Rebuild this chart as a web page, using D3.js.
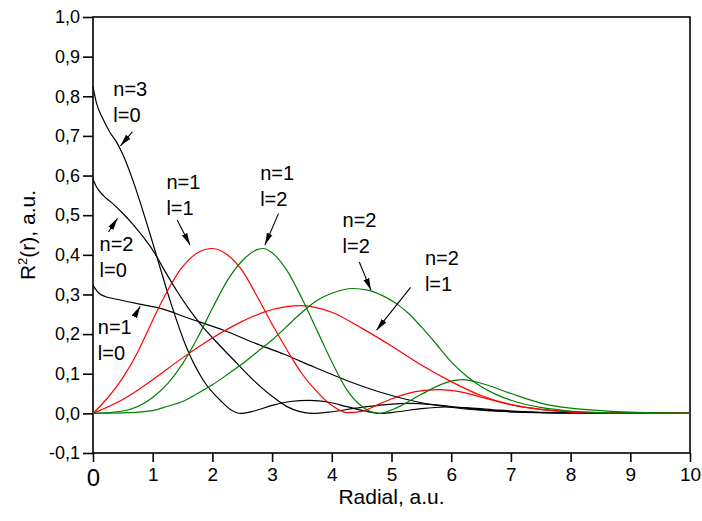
<!DOCTYPE html>
<html>
<head>
<meta charset="utf-8">
<script src="https://cdn.jsdelivr.net/npm/d3@7"></script>
<style>
  body { margin: 0; background: #fff; }
  svg { display: block; font-family: Arial, "Liberation Sans", sans-serif; }
</style>
</head>
<body>
<svg id="chart" width="702" height="521"></svg>
<script>
// radial values (a.u.) and R^2, one array per state
var n1l0 = [[0,0.323],[0.1,0.303],[0.2,0.295],[0.4,0.288],[0.8,0.275],[1.1,0.266],[1.6,0.240],[2.2,0.209],
            [2.7,0.178],[3.2,0.149],[3.7,0.117],[4.25,0.083],[4.8,0.054],[5.4,0.030],[5.95,0.016],[6.5,0.008],
            [7,0.004],[8,0.001],[10,0]];
var n2l0 = [[0,0.59],[0.06,0.571],[0.17,0.55],[0.34,0.528],[0.51,0.503],[0.68,0.475],[0.84,0.445],[1.0,0.412],
            [1.2,0.36],[1.4,0.31],[1.6,0.265],[1.8,0.225],[2.1,0.175],[2.4,0.128],[2.7,0.082],[3.0,0.043],
            [3.25,0.017],[3.45,0.005],[3.68,0],[4.0,0.004],[4.4,0.013],[4.9,0.022],[5.3,0.025],[5.7,0.022],
            [6.2,0.014],[6.7,0.007],[7.2,0.003],[8,0.001],[10,0]];
var n3l0 = [[0,0.824],[0.06,0.782],[0.17,0.742],[0.28,0.71],[0.4,0.683],[0.5,0.653],[0.6,0.616],[0.7,0.574],
            [0.8,0.528],[0.93,0.465],[1.07,0.395],[1.29,0.285],[1.57,0.165],[1.85,0.083],[2.13,0.033],[2.3,0.01],
            [2.48,0],[2.7,0.006],[3.0,0.02],[3.3,0.03],[3.63,0.033],[3.95,0.028],[4.25,0.017],[4.55,0.006],
            [4.82,0],[5.1,0.004],[5.5,0.012],[5.9,0.016],[6.3,0.014],[6.8,0.008],[7.3,0.004],[8,0.001],[10,0]];
var n1l1 = [[0,0],[0.25,0.04],[0.5,0.09],[0.75,0.155],[1.0,0.235],[1.25,0.31],[1.5,0.37],[1.75,0.405],
            [2.0,0.416],[2.25,0.4],[2.5,0.36],[2.75,0.295],[3.0,0.225],[3.25,0.16],[3.5,0.1],[3.75,0.055],
            [4.0,0.02],[4.25,0.002],[4.5,0.005],[4.8,0.024],[5.1,0.042],[5.4,0.055],[5.8,0.06],[6.2,0.053],
            [6.5,0.041],[7.0,0.022],[7.5,0.01],[8,0.004],[9,0.001],[10,0]];
var n2l1 = [[0,0],[0.5,0.035],[1.0,0.085],[1.5,0.14],[2.0,0.19],[2.5,0.232],[3.0,0.262],[3.5,0.272],
            [4.0,0.255],[4.5,0.215],[5.0,0.17],[5.5,0.122],[6.0,0.08],[6.5,0.045],[7.0,0.022],[7.5,0.01],
            [8,0.004],[9,0.001],[10,0]];
var n1l2 = [[0,0],[0.5,0.006],[1.0,0.04],[1.25,0.075],[1.5,0.125],[1.75,0.19],[2.0,0.265],[2.25,0.335],
            [2.5,0.385],[2.75,0.413],[2.85,0.416],[3.0,0.405],[3.25,0.36],[3.5,0.29],[3.75,0.21],[4.0,0.13],
            [4.25,0.06],[4.5,0.018],[4.8,0],[5.1,0.015],[5.5,0.048],[5.9,0.077],[6.2,0.085],[6.5,0.076],
            [7.0,0.05],[7.5,0.026],[8.0,0.013],[8.5,0.007],[9,0.003],[10,0]];
var n2l2 = [[0,0],[0.5,0.001],[1.0,0.007],[1.25,0.018],[1.5,0.03],[1.75,0.05],[2.0,0.072],[2.25,0.098],
            [2.5,0.125],[2.75,0.155],[3.0,0.185],[3.25,0.22],[3.5,0.255],[3.75,0.285],[4.0,0.303],[4.35,0.315],
            [4.6,0.311],[4.85,0.297],[5.1,0.275],[5.3,0.25],[5.5,0.218],[5.75,0.175],[6.0,0.13],[6.25,0.095],
            [6.5,0.068],[6.75,0.048],[7.0,0.033],[7.5,0.015],[8,0.006],[8.5,0.002],[9,0.001],[10,0]];

var xTicks = [0,1,2,3,4,5,6,7,8,9,10];
var yTicks = [-0.1,0,0.1,0.2,0.3,0.4,0.5,0.6,0.7,0.8,0.9,1.0];

var series = [
    {data: n1l0, color: "#000000"},
    {data: n2l0, color: "#000000"},
    {data: n3l0, color: "#000000"},
    {data: n1l1, color: "#ff0000"},
    {data: n2l1, color: "#ff0000"},
    {data: n1l2, color: "#008000"},
    {data: n2l2, color: "#008000"}
];

// label text lines, where they sit and where their arrows point (arrow in data units)
var notes = [
    {lines: ["n=3","l=0"], at: [0.34,0.80], from: [0.66,0.71], to: [0.46,0.675]},
    {lines: ["n=2","l=0"], at: [0.11,0.41], from: [0.26,0.458], to: [0.41,0.492]},
    {lines: ["n=1","l=0"], at: [0.08,0.20], from: [0.705,0.247], to: [0.79,0.27]},
    {lines: ["n=1","l=1"], at: [1.23,0.565], from: [1.41,0.488], to: [1.625,0.425]},
    {lines: ["n=1","l=2"], at: [2.80,0.59], from: [3.107,0.504], to: [2.88,0.425]},
    {lines: ["n=2","l=2"], at: [4.18,0.47], from: [4.46,0.382], to: [4.655,0.311]},
    {lines: ["n=2","l=1"], at: [5.56,0.375], from: [5.32,0.318], to: [4.75,0.21]}
];

var W = 702, H = 521;
var margin = {top: 17, right: 12, bottom: 68, left: 93};

var svg = d3.select("#chart");

var x = d3.scaleLinear().domain([0, 10]).range([margin.left, W - margin.right]);
var y = d3.scaleLinear().domain([-0.1, 1.0]).range([H - margin.bottom, margin.top]);

var fmt = function(d) {
    return d3.format(".1f")(d).replace(".", ",").replace("−", "-");
};

// frame
svg.append("rect")
    .attr("x", x(0)).attr("y", y(1.0))
    .attr("width", x(10) - x(0)).attr("height", y(-0.1) - y(1.0))
    .attr("fill", "none").attr("stroke", "#000").attr("stroke-width", 1.6);

// x axis
var xAxis = svg.append("g").attr("transform", "translate(0," + y(-0.1) + ")");
xAxis.call(d3.axisBottom(x).tickValues(d3.range(0, 10.01, 0.5)).tickSize(5).tickFormat(""));
xAxis.call(d3.axisBottom(x).tickValues(xTicks).tickSize(9).tickFormat(d3.format("d")));
xAxis.selectAll(".domain").remove();
xAxis.selectAll("line").attr("stroke", "#000").attr("stroke-width", 1.6);
xAxis.selectAll("text")
    .attr("font-size", function(d) { return d === 0 ? 24 : 19; })
    .attr("font-family", "Arial, 'Liberation Sans', sans-serif")
    .attr("fill", "#000")
    .attr("dy", function(d) { return d === 0 ? "0.78em" : "0.72em"; })
    .attr("y", 14);

// y axis
var yAxis = svg.append("g").attr("transform", "translate(" + x(0) + ",0)");
yAxis.call(d3.axisLeft(y).tickValues(d3.range(-0.1, 1.001, 0.05)).tickSize(5).tickFormat(""));
yAxis.call(d3.axisLeft(y).tickValues(yTicks).tickSize(10).tickFormat(fmt));
yAxis.selectAll(".domain").remove();
yAxis.selectAll("line").attr("stroke", "#000").attr("stroke-width", 1.6);
yAxis.selectAll("text")
    .attr("font-size", 18)
    .attr("font-family", "Arial, 'Liberation Sans', sans-serif")
    .attr("fill", "#000")
    .attr("x", -13);

// axis titles
svg.append("text")
    .attr("x", (x(0) + x(10)) / 2).attr("y", 504)
    .attr("text-anchor", "middle").attr("font-size", 21)
    .text("Radial, a.u.");

var yt = svg.append("text")
    .attr("transform", "translate(35," + ((y(1.0) + y(-0.1)) / 2) + ") rotate(-90)")
    .attr("text-anchor", "middle").attr("font-size", 21);
yt.append("tspan").text("R");
yt.append("tspan").attr("font-size", 13).attr("dy", -8).text("2");
yt.append("tspan").attr("dy", 8).text("(r), a.u.");

// curves
var line = d3.line()
    .x(function(d) { return x(d[0]); })
    .y(function(d) { return y(d[1]); })
    .curve(d3.curveMonotoneX);

svg.append("g").selectAll("path")
    .data(series)
    .join("path")
    .attr("d", function(s) { return line(s.data); })
    .attr("fill", "none")
    .attr("stroke", function(s) { return s.color; })
    .attr("stroke-width", 1.2);

// annotations
svg.append("defs").append("marker")
    .attr("id", "head")
    .attr("viewBox", "0 0 12 8")
    .attr("refX", 12).attr("refY", 4)
    .attr("markerWidth", 12).attr("markerHeight", 8)
    .attr("markerUnits", "userSpaceOnUse")
    .attr("orient", "auto")
    .append("path").attr("d", "M0,1 L12,4 L0,7 Z").attr("fill", "#000");

var g = svg.append("g");
notes.forEach(function(n) {
    var t = g.append("text").attr("font-size", 20).attr("fill", "#000");
    n.lines.forEach(function(s, i) {
        t.append("tspan")
            .attr("x", x(n.at[0]))
            .attr("y", y(n.at[1]) + i * 26)
            .text(s);
    });
    g.append("line")
        .attr("x1", x(n.from[0])).attr("y1", y(n.from[1]))
        .attr("x2", x(n.to[0])).attr("y2", y(n.to[1]))
        .attr("stroke", "#000").attr("stroke-width", 1.1)
        .attr("marker-end", "url(#head)");
});
</script>
</body>
</html>
